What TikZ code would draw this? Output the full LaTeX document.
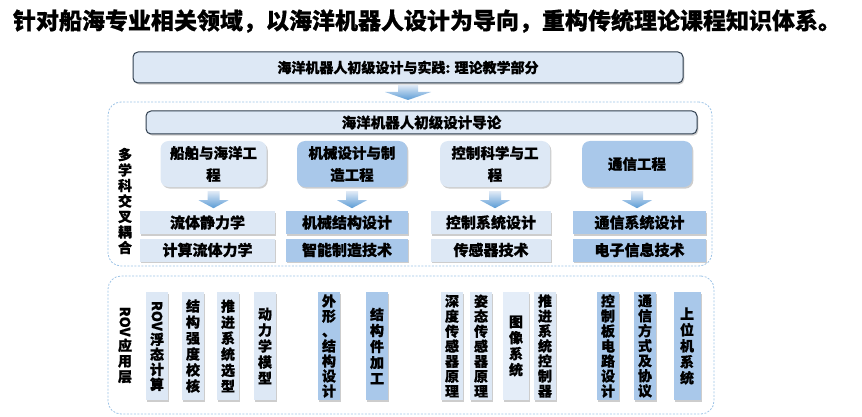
\documentclass[tikz,border=0pt]{standalone}
\usepackage{fontspec}
\usepackage{graphicx}
\setmainfont{Noto Sans CJK SC}[BoldFeatures={FakeBold=0.6}]
\usetikzlibrary{shadows,calc}
\definecolor{light}{HTML}{DDE8F5}
\definecolor{med}{HTML}{A9C8EA}
\definecolor{pale}{HTML}{E4EDF8}
\definecolor{dashc}{HTML}{9DC3E6}
\definecolor{edge}{HTML}{2F3E4E}
\definecolor{arrtop}{HTML}{E0EAF6}
\definecolor{arrbot}{HTML}{5A9BD5}
\tikzset{
  shad/.style={drop shadow={shadow xshift=1.3pt, shadow yshift=-1.6pt, opacity=0.28, fill=black!70}},
  headbox/.style={draw=edge, line width=1pt, fill=light, rounded corners=5pt, shad, inner sep=0pt,
     font=\bfseries\fontsize{14}{16}\selectfont},
  area/.style={draw=dashc, dashed, dash pattern=on 2pt off 1.5pt, line width=0.8pt, rounded corners=13pt, inner sep=0pt},
  discbox/.style={rounded corners=8pt, shad, inner sep=0pt, align=center, minimum height=46pt,
     font=\bfseries\fontsize{14.5}{22}\selectfont},
  rowbox/.style={inner sep=0pt, shad, minimum height=23pt, font=\bfseries\fontsize{15}{17}\selectfont},
  vbox/.style={inner sep=0pt, shad, minimum width=22pt, minimum height=108pt, align=center,
     font=\bfseries\fontsize{14}{15}\selectfont},
  vsix/.style={font=\bfseries\fontsize{14}{16}\selectfont},
  sidelabel/.style={inner sep=0pt, align=center, font=\bfseries\fontsize{14}{15.5}\selectfont},
  pics/blockarrow/.style args={#1/#2/#3/#4}{code={
    \shade[top color=arrtop, bottom color=arrbot]
      (-#1/2,0) -- (#1/2,0) -- (#1/2,#2) -- (#3/2,#2) -- (0,#2+#4) -- (-#3/2,#2) -- (-#1/2,#2) -- cycle;}}
}
\begin{document}
\begin{tikzpicture}[x=1pt,y=-1pt]
\useasboundingbox (0,0) rectangle (862,417);

% title
\node[inner sep=0pt, font=\bfseries\fontsize{23}{25}\selectfont] (title) at (427,21)
  {针对船海专业相关领域，以海洋机器人设计为导向，重构传统理论课程知识体系。};

% top box
\node[headbox, minimum width=550pt, minimum height=31pt] (top) at (408,67.5)
  {海洋机器人初级设计与实践: 理论教学部分};

% containers
\node[area, minimum width=604pt, minimum height=164pt] (area1) at (410,184) {};
\node[area, minimum width=606pt, minimum height=138pt] (area2) at (411,345) {};

\pic at ($(top.south)+(0,1.5)$) {blockarrow=20/7/46/8};

% intro box
\node[headbox, minimum width=551pt, minimum height=23pt, font=\bfseries\fontsize{14.5}{16}\selectfont] (intro) at (421.5,122.5)
  {海洋机器人初级设计导论};

% side labels
\node[sidelabel] (lab1) at (125,201) {多\\学\\科\\交\\叉\\耦\\合};
\node[sidelabel] (lab2) at (125,345) {\rotatebox[origin=c]{-90}{ROV}\\[1pt]应\\用\\层};

% discipline boxes
\node[discbox, fill=light, minimum width=106pt] (c1) at (213.5,164) {船舶与海洋工\\程};
\node[discbox, fill=med, minimum width=110pt] (c2) at (352,164) {机械设计与制\\造工程};
\node[discbox, fill=light, minimum width=110pt] (c3) at (495,164) {控制科学与工\\程};
\node[discbox, fill=med, minimum width=110pt] (c4) at (637,164) {通信工程};

\foreach \c in {c1,c2,c3,c4}
  \pic at ($(\c.south)+(0,4)$) {blockarrow=12/9/30/8};

% course rows
\node[rowbox, fill=light, minimum width=135pt] (r11) at (207.5,222.5) {流体静力学};
\node[rowbox, fill=light, minimum width=135pt] (r12) at (207.5,250) {计算流体力学};
\node[rowbox, fill=med, minimum width=122pt] (r21) at (347,222.5) {机械结构设计};
\node[rowbox, fill=med, minimum width=122pt] (r22) at (347,250) {智能制造技术};
\node[rowbox, fill=light, minimum width=120pt] (r31) at (491,222.5) {控制系统设计};
\node[rowbox, fill=light, minimum width=120pt] (r32) at (491,250) {传感器技术};
\node[rowbox, fill=med, minimum width=133pt] (r41) at (639.5,222.5) {通信系统设计};
\node[rowbox, fill=med, minimum width=133pt] (r42) at (639.5,250) {电子信息技术};

% ROV application boxes
\node[vbox, fill=light] (v1) at (157,346) {\rotatebox[origin=c]{-90}{ROV}\\[1pt]浮\\态\\计\\算};
\node[vbox, vsix, fill=light] (v2) at (193,346) {结\\构\\强\\度\\校\\核};
\node[vbox, vsix, fill=light] (v3) at (228,346) {推\\进\\系\\统\\选\\型};
\node[vbox, vsix, fill=light] (v4) at (265,346) {动\\力\\学\\模\\型};
\node[vbox, fill=med] (v5) at (329,346) {外\\形\\、\\结\\构\\设\\计};
\node[vbox, vsix, fill=med] (v6) at (377,346) {结\\构\\件\\加\\工};
\node[vbox, fill=light] (v7) at (452,346) {深\\度\\传\\感\\器\\原\\理};
\node[vbox, fill=light] (v8) at (481,346) {姿\\态\\传\\感\\器\\原\\理};
\node[vbox, vsix, fill=pale, minimum width=26pt] (v9) at (516,346) {图\\像\\系\\统};
\node[vbox, fill=light] (v10) at (545,346) {推\\进\\系\\统\\控\\制\\器};
\node[vbox, fill=med] (v11) at (608,346) {控\\制\\板\\电\\路\\设\\计};
\node[vbox, fill=med] (v12) at (645,346) {通\\信\\方\\式\\及\\协\\议};
\node[vbox, vsix, fill=med, minimum width=27pt] (v13) at (687,346) {上\\位\\机\\系\\统};
\end{tikzpicture}
\end{document}
